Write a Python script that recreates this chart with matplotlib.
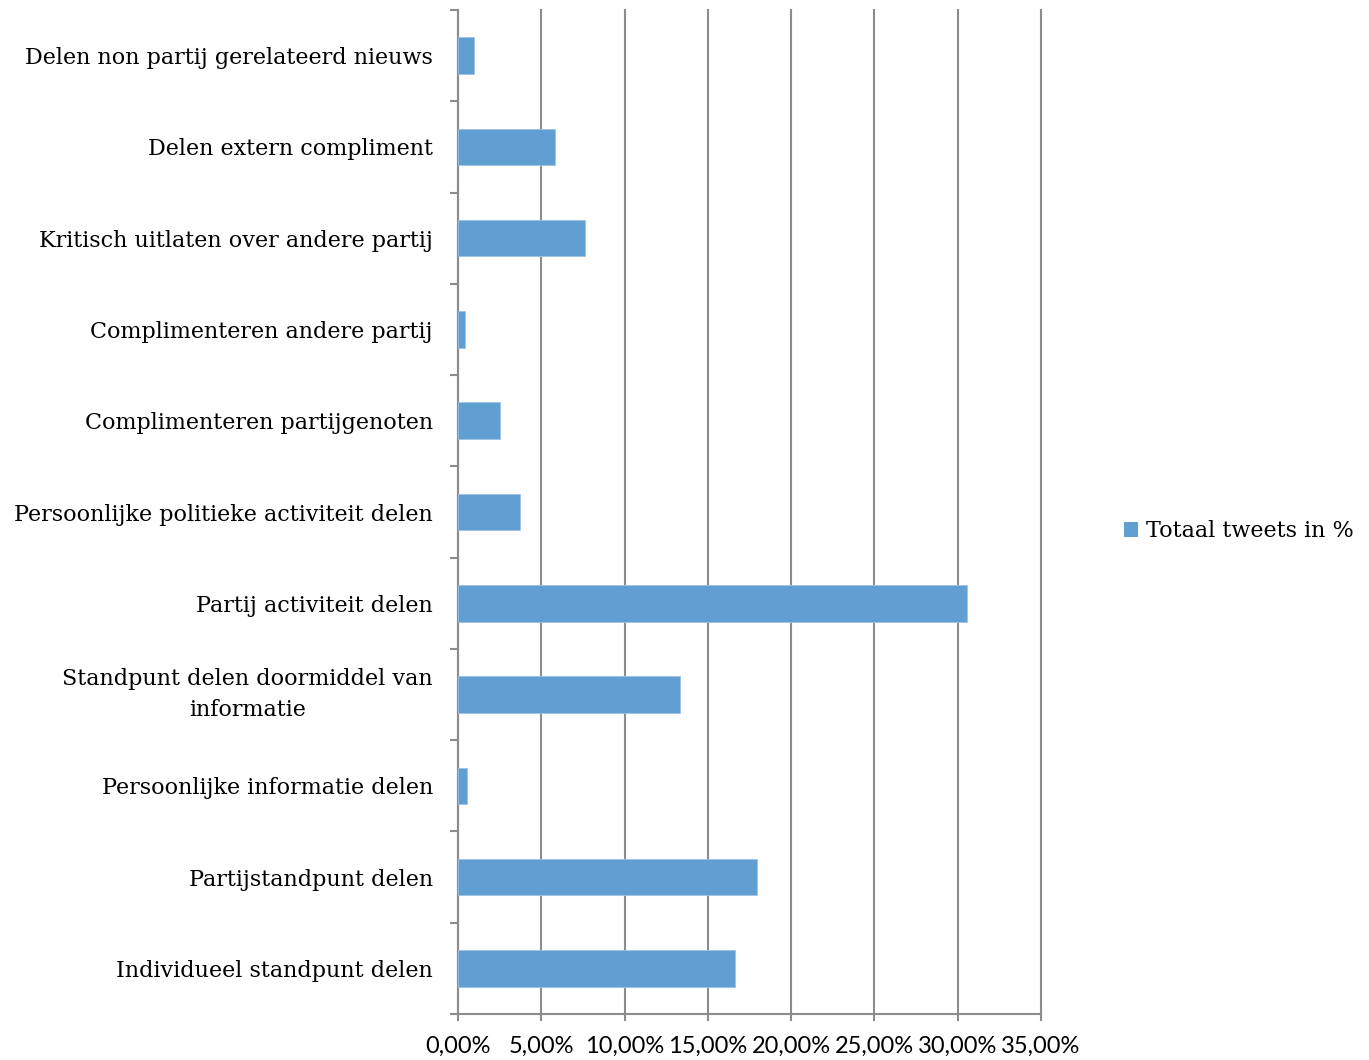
import matplotlib
matplotlib.use("Agg")
import matplotlib.pyplot as plt
from matplotlib.patches import Patch
import numpy as np

# Categories listed from top to bottom as shown on the chart
categories = [
    "Delen non partij gerelateerd nieuws",
    "Delen extern compliment",
    "Kritisch uitlaten over andere partij",
    "Complimenteren andere partij",
    "Complimenteren partijgenoten",
    "Persoonlijke politieke activiteit delen",
    "Partij activiteit delen",
    "Standpunt delen doormiddel van\ninformatie",
    "Persoonlijke informatie delen",
    "Partijstandpunt delen",
    "Individueel standpunt delen",
]
totaal_pct = [0.98, 5.82, 7.63, 0.42, 2.50, 3.70, 30.56, 13.30, 0.54, 17.96, 16.65]
series_name = "Totaal tweets in %"
x_ticks = [0, 5, 10, 15, 20, 25, 30, 35]
x_ticklabels = ["0,00%", "5,00%", "10,00%", "15,00%", "20,00%", "25,00%", "30,00%", "35,00%"]

BAR_COLOR = "#619ED2"
GRID_COLOR = "#8C8C8C"
SERIF = ["DejaVu Serif"]
SANS = ["Lato", "DejaVu Sans"]

fig = plt.figure(figsize=(13.69, 10.60), dpi=100)
ax = fig.add_axes([458 / 1369, 1 - 1014 / 1060, (1041 - 458) / 1369, (1014 - 10) / 1060])

n = len(categories)
ypos = np.arange(n)[::-1]  # first category at the top
ax.barh(ypos, totaal_pct, height=0.4, color=BAR_COLOR, edgecolor="#9CC3E6",
        linewidth=0.6, zorder=3)

ax.set_xlim(0, 35)
ax.set_ylim(-0.5, n - 0.5)

for side in ("top", "right"):
    ax.spines[side].set_visible(False)
for side in ("left", "bottom"):
    ax.spines[side].set_color(GRID_COLOR)
    ax.spines[side].set_linewidth(1.5)

# vertical gridlines
ax.set_xticks(x_ticks)
ax.set_xticklabels(x_ticklabels, fontfamily=SANS, fontsize=17)
ax.grid(axis="x", color=GRID_COLOR, linewidth=1.5, zorder=0)
for gl in ax.get_xgridlines():
    gl.set_clip_on(False)
ax.tick_params(axis="x", direction="out", length=5, width=1.5, color=GRID_COLOR, pad=11)

# category labels at bar centres, tick marks at category boundaries
ax.set_yticks(ypos)
ax.set_yticklabels(categories, fontfamily=SERIF, fontsize=16, linespacing=1.5)
ax.tick_params(axis="y", which="major", length=0, pad=18)
ax.set_yticks(np.arange(-0.5, n, 1.0), minor=True)
ax.tick_params(axis="y", which="minor", direction="out", length=6, width=1.5, color=GRID_COLOR)
for lbl in ax.get_yticklabels():
    lbl.set_multialignment("center")
    if "\n" in lbl.get_text():
        lbl.set_verticalalignment("center")

handle = Patch(facecolor=BAR_COLOR, edgecolor="none")
fig.legend([handle], [series_name], loc="center left",
           bbox_to_anchor=(1104 / 1369, 1 - 531 / 1060), frameon=False,
           handlelength=0.65, handleheight=0.65, handletextpad=0.35,
           prop={"family": SERIF, "size": 16})

fig.savefig("out.png", dpi=100)
